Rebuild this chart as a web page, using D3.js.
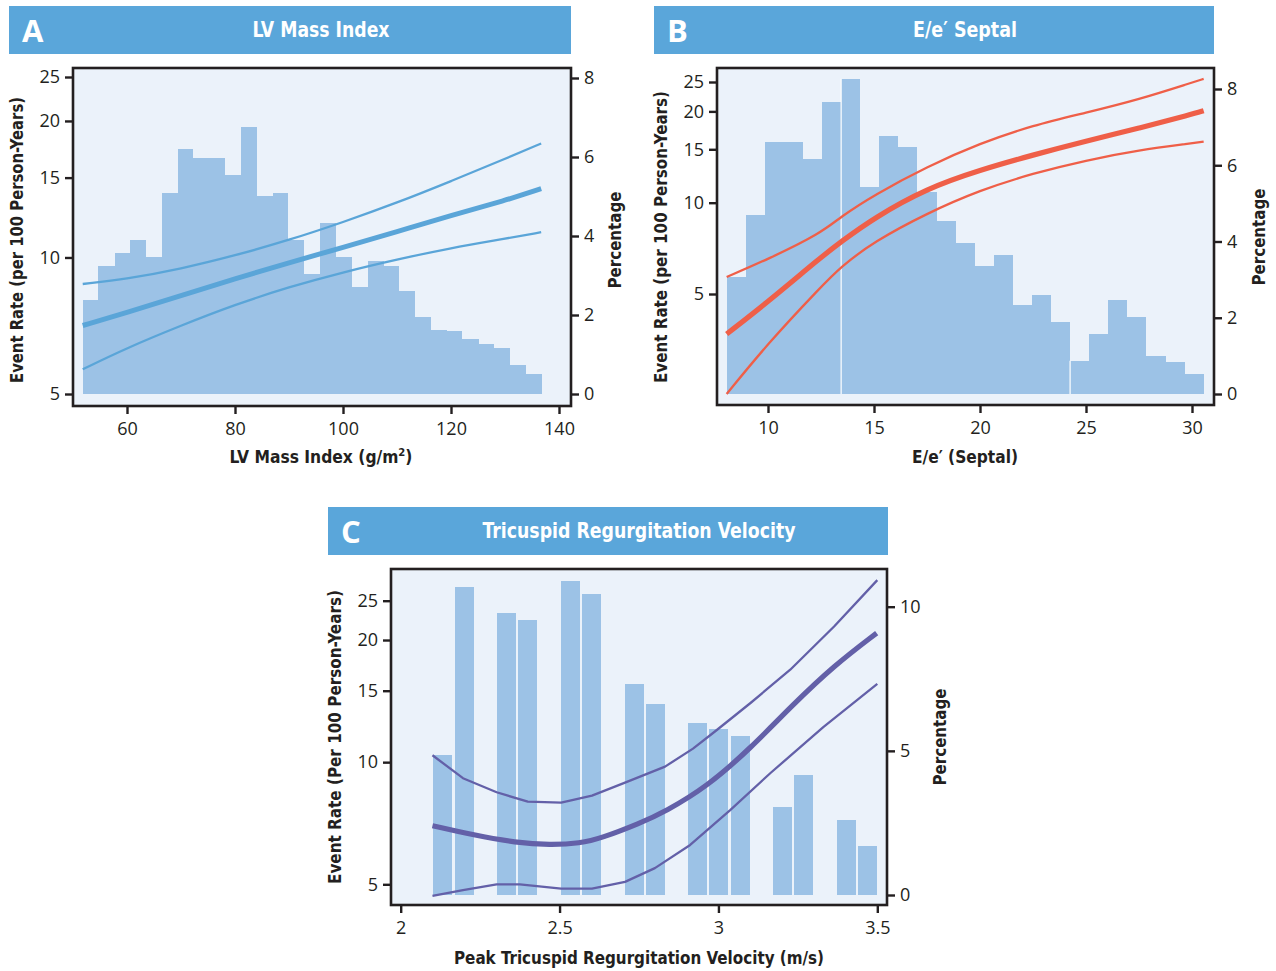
<!DOCTYPE html>
<html>
<head>
<meta charset="utf-8">
<script src="https://cdn.jsdelivr.net/npm/d3@7"></script>
<style>
  html, body { margin: 0; padding: 0; background: #ffffff; }
  svg { display: block; }
</style>
</head>
<body>
<svg id="chart" width="1276" height="971"></svg>
<script>
// ---------------- DATA ----------------
// Panel A: LV Mass Index
const aBinEdges = [51.8, 54.7, 57.7, 60.6, 63.5, 66.5, 69.4, 72.3, 75.3, 78.2, 81.1, 84.1, 87.0, 89.9, 92.8,
                   95.8, 98.7, 101.6, 104.6, 107.5, 110.4, 113.4, 116.3, 119.2, 122.1, 125.1, 128.0, 130.9, 133.9, 136.8];
const aPercent = [2.38, 3.24, 3.58, 3.90, 3.47, 5.09, 6.20, 5.97, 5.97, 5.54, 6.76, 5.01, 5.09, 3.90, 3.04,
                  4.33, 3.47, 2.71, 3.37, 3.24, 2.61, 1.95, 1.62, 1.59, 1.39, 1.27, 1.16, 0.73, 0.51];
const aCurveX = [51.8, 60, 70, 80, 90, 100, 110, 120, 130, 136.7];
const aRate   = [7.08, 7.56, 8.24, 8.98, 9.74, 10.52, 11.40, 12.38, 13.35, 14.18];
const aUpper  = [8.74, 8.97, 9.44, 10.10, 10.92, 11.96, 13.20, 14.73, 16.50, 17.84];
const aLower  = [5.67, 6.32, 7.08, 7.87, 8.61, 9.28, 9.90, 10.50, 11.00, 11.37];
const aXTicks = [60, 80, 100, 120, 140];

// Panel B: E/e' Septal
const bBinEdges = [8.05, 8.95, 9.85, 10.75, 11.65, 12.55, 13.45, 14.35, 15.25, 16.15, 17.05, 17.95, 18.85,
                   19.75, 20.65, 21.55, 22.45, 23.35, 24.25, 25.15, 26.05, 26.95, 27.85, 28.75, 29.65, 30.55];
const bPercent = [3.07, 4.70, 6.61, 6.61, 6.17, 7.66, 8.27, 5.43, 6.77, 6.48, 5.30, 4.54, 3.96,
                  3.36, 3.65, 2.34, 2.60, 1.89, 0.87, 1.57, 2.47, 2.02, 1.00, 0.84, 0.52];
const bSeams = [13.45, 24.25];
const bCurveX = [8.05, 10, 12.5, 13.44, 15, 17.5, 20, 22.5, 25, 27.5, 30, 30.55];
const bRate   = [3.69, 4.71, 6.61, 7.43, 8.91, 11.16, 12.82, 14.37, 15.97, 17.60, 19.57, 20.10];
const bUpper  = [5.69, 6.51, 7.93, 9.00, 10.60, 13.15, 15.70, 18.00, 19.80, 21.90, 24.90, 25.60];
const bLower  = [2.34, 3.44, 5.28, 6.15, 7.44, 9.23, 11.00, 12.50, 13.80, 14.90, 15.70, 15.90];
const bXTicks = [10, 15, 20, 25, 30];

// Panel C: Tricuspid Regurgitation Velocity
const cBarCenters = [2.132, 2.201, 2.333, 2.399, 2.535, 2.601, 2.736, 2.802, 2.934, 3.000, 3.070, 3.202, 3.268, 3.403, 3.469];
const cBarWidth = 0.06;
const cPercent = [4.86, 10.69, 9.79, 9.55, 10.90, 10.45, 7.33, 6.63, 5.97, 5.76, 5.52, 3.06, 4.17, 2.60, 1.70];
const cMainX  = [2.10, 2.23, 2.363, 2.47, 2.565, 2.63, 2.753, 2.832, 2.964, 3.10, 3.232, 3.364, 3.498];
const cRate   = [6.97, 6.61, 6.33, 6.25, 6.31, 6.49, 7.07, 7.55, 8.70, 10.80, 13.80, 17.30, 20.80];
const cUpperX = [2.10, 2.196, 2.302, 2.40, 2.505, 2.602, 2.706, 2.832, 2.92, 2.989, 3.10, 3.226, 3.364, 3.50];
const cUpper  = [10.40, 9.13, 8.43, 7.99, 7.95, 8.27, 8.90, 9.75, 10.80, 11.90, 13.97, 16.90, 21.60, 28.10];
const cLowerX = [2.10, 2.196, 2.302, 2.375, 2.505, 2.602, 2.706, 2.80, 2.911, 3.037, 3.163, 3.33, 3.50];
const cLower  = [4.68, 4.84, 5.00, 5.00, 4.88, 4.88, 5.07, 5.48, 6.25, 7.62, 9.39, 12.20, 15.60];
const cXTicks = [2, 2.5, 3, 3.5];

const rateTicks = [5, 10, 15, 20, 25];

// ---------------- STYLE ----------------
const INK = "#231f20";
const HEADER = "#5aa6da";
const BAR = "#9cc2e6";
const BG = "#ebf2fa";
const TICKFONT = "'Open Sans', 'Noto Sans', sans-serif";
const LABFONT = "'Liberation Sans Narrow', 'DejaVu Sans Condensed', 'Open Sans', sans-serif";

const svg = d3.select("#chart");

function header(x, w, y, letter, title, titleCx, titleLen) {
  const g = svg.append("g");
  g.append("rect").attr("x", x).attr("y", y).attr("width", w).attr("height", 48).attr("fill", HEADER);
  g.append("text").attr("x", x + 13).attr("y", y + 36)
    .attr("font-family", "'Open Sans', sans-serif").attr("font-weight", 700)
    .attr("font-size", 31).attr("fill", "#fff").text(letter);
  g.append("text").attr("x", titleCx).attr("y", y + 31)
    .attr("text-anchor", "middle").attr("font-family", LABFONT).attr("font-weight", 700)
    .attr("font-size", 21).attr("fill", "#fff")
    .attr("textLength", titleLen).attr("lengthAdjust", "spacingAndGlyphs").text(title);
}

function panel(cfg) {
  const g = svg.append("g");
  const f = cfg.frame;
  g.append("rect").attr("x", f.x0).attr("y", f.y0).attr("width", f.x1 - f.x0).attr("height", f.y1 - f.y0)
    .attr("fill", BG);
  const bars = g.append("g");
  cfg.bars.forEach(b => {
    bars.append("rect")
      .attr("x", cfg.x(b.x0)).attr("width", cfg.x(b.x1) - cfg.x(b.x0))
      .attr("y", cfg.yR(b.v)).attr("height", cfg.yR(0) - cfg.yR(b.v))
      .attr("fill", BAR).attr("shape-rendering", "crispEdges");
  });
  (cfg.seams || []).forEach(s => {
    g.append("line").attr("x1", cfg.x(s.x)).attr("x2", cfg.x(s.x))
      .attr("y1", cfg.yR(0)).attr("y2", cfg.yR(s.top))
      .attr("stroke", "#fff").attr("stroke-width", 1.2);
  });
  cfg.lines.forEach(L => {
    const pts = L.xs.map((xv, i) => [cfg.x(xv), cfg.yL(L.ys[i])]);
    const line = d3.line().curve(L.curve || d3.curveBasis);
    g.append("path").attr("d", line(pts)).attr("fill", "none")
      .attr("stroke", cfg.color).attr("stroke-width", L.w).attr("stroke-linecap", "butt")
      .attr("stroke-linejoin", "round");
  });
  g.append("rect").attr("x", f.x0).attr("y", f.y0).attr("width", f.x1 - f.x0).attr("height", f.y1 - f.y0)
    .attr("fill", "none").attr("stroke", INK).attr("stroke-width", 2.6);

  const axL = d3.axisLeft(cfg.yL).tickValues(rateTicks).tickFormat(d3.format("d")).tickSize(8).tickPadding(5);
  const gL = g.append("g").attr("transform", `translate(${f.x0},0)`).call(axL);
  const axR = d3.axisRight(cfg.yR).tickValues(cfg.rTicks).tickFormat(d3.format("d")).tickSize(8).tickPadding(5);
  const gR = g.append("g").attr("transform", `translate(${f.x1},0)`).call(axR);
  const axB = d3.axisBottom(cfg.x).tickValues(cfg.xTicks).tickFormat(cfg.xFmt || d3.format("d")).tickSize(8).tickPadding(8);
  const gB = g.append("g").attr("transform", `translate(0,${f.y1})`).call(axB);
  [gL, gR, gB].forEach(a => {
    a.select(".domain").remove();
    a.selectAll(".tick line").attr("stroke", INK).attr("stroke-width", 2.4);
    a.selectAll(".tick text").attr("fill", INK).attr("font-family", TICKFONT).attr("font-size", 18);
  });

  g.append("text").attr("transform", `translate(${cfg.lx},${cfg.ly}) rotate(-90)`)
    .attr("text-anchor", "middle").attr("font-family", LABFONT).attr("font-weight", 700)
    .attr("font-size", 17).attr("fill", INK)
    .attr("textLength", cfg.lLen).attr("lengthAdjust", "spacingAndGlyphs").text(cfg.lText);
  g.append("text").attr("transform", `translate(${cfg.rx},${cfg.ly}) rotate(-90)`)
    .attr("text-anchor", "middle").attr("font-family", LABFONT).attr("font-weight", 700)
    .attr("font-size", 17).attr("fill", INK)
    .attr("textLength", 97).attr("lengthAdjust", "spacingAndGlyphs").text("Percentage");
  const xt = g.append("text").attr("x", cfg.xlx).attr("y", cfg.xly)
    .attr("text-anchor", "middle").attr("font-family", LABFONT).attr("font-weight", 700)
    .attr("font-size", 17).attr("fill", INK)
    .attr("textLength", cfg.xLen).attr("lengthAdjust", "spacingAndGlyphs");
  if (cfg.xSup) {
    xt.append("tspan").text(cfg.xText);
    xt.append("tspan").attr("dy", -7).attr("font-size", 11).text(cfg.xSup);
    xt.append("tspan").attr("dy", 7).text(")");
  } else {
    xt.text(cfg.xText);
  }
}

// ---------------- PANEL A ----------------
header(9, 562, 6, "A", "LV Mass Index", 321, 137);
{
  const x = d3.scaleLinear().domain([60, 140]).range([127, 559]);
  const yL = d3.scaleLog().domain([5, 25]).range([394, 77]);
  const yR = d3.scaleLinear().domain([0, 8]).range([394, 78]);
  panel({
    frame: { x0: 73, x1: 571, y0: 68, y1: 406 },
    x, yL, yR, rTicks: [0, 2, 4, 6, 8], xTicks: aXTicks, color: "#5aa5d8",
    bars: aPercent.map((v, i) => ({ x0: aBinEdges[i], x1: aBinEdges[i + 1], v })),
    lines: [
      { xs: aCurveX, ys: aUpper, w: 2.3 },
      { xs: aCurveX, ys: aLower, w: 2.3 },
      { xs: aCurveX, ys: aRate, w: 5 }
    ],
    lx: 23, ly: 240, lLen: 286, lText: "Event Rate (per 100 Person-Years)",
    rx: 621, xlx: 321, xly: 463, xLen: 183, xText: "LV Mass Index (g/m", xSup: "2"
  });
}

// ---------------- PANEL B ----------------
header(654, 560, 6, "B", "E/e\u2032 Septal", 965, 104);
{
  const x = d3.scaleLinear().domain([10, 30]).range([768, 1192]);
  const yL = d3.scaleLog().domain([5, 25]).range([294, 82]);
  const yR = d3.scaleLinear().domain([0, 8]).range([394, 89]);
  panel({
    frame: { x0: 717, x1: 1214, y0: 68, y1: 405 },
    x, yL, yR, rTicks: [0, 2, 4, 6, 8], xTicks: bXTicks, color: "#ef5f48",
    bars: bPercent.map((v, i) => ({ x0: bBinEdges[i], x1: bBinEdges[i + 1], v })),
    seams: bSeams.map(s => ({ x: s, top: bPercent[bBinEdges.indexOf(s)] })),
    lines: [
      { xs: bCurveX, ys: bUpper, w: 2.3 },
      { xs: bCurveX, ys: bLower, w: 2.3 },
      { xs: bCurveX, ys: bRate, w: 5.2 }
    ],
    lx: 667, ly: 237, lLen: 292, lText: "Event Rate (per 100 Person-Years)",
    rx: 1265, xlx: 965, xly: 463, xLen: 106, xText: "E/e\u2032 (Septal)"
  });
}

// ---------------- PANEL C ----------------
header(328, 560, 507, "C", "Tricuspid Regurgitation Velocity", 639, 313);
{
  const x = d3.scaleLinear().domain([2, 3.5]).range([400.7, 877.3]);
  const yL = d3.scaleLog().domain([5, 25]).range([884.3, 600.7]);
  const yR = d3.scaleLinear().domain([0, 10]).range([895, 606.7]);
  panel({
    frame: { x0: 391, x1: 887, y0: 569, y1: 905 },
    x, yL, yR, rTicks: [0, 5, 10], xTicks: cXTicks, xFmt: d => String(d), color: "#6360a8",
    bars: cPercent.map((v, i) => ({ x0: cBarCenters[i] - cBarWidth / 2, x1: cBarCenters[i] + cBarWidth / 2, v })),
    lines: [
      { xs: cUpperX, ys: cUpper, w: 2.3, curve: d3.curveLinear },
      { xs: cLowerX, ys: cLower, w: 2.3, curve: d3.curveLinear },
      { xs: cMainX, ys: cRate, w: 5.2 }
    ],
    lx: 341, ly: 737, lLen: 294, lText: "Event Rate (Per 100 Person-Years)",
    rx: 946, xlx: 639, xly: 964, xLen: 370, xText: "Peak Tricuspid Regurgitation Velocity (m/s)"
  });
}
</script>
</body>
</html>
